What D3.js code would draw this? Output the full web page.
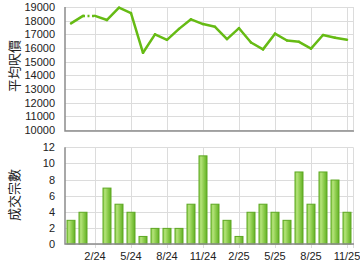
<!DOCTYPE html>
<html>
<head>
<meta charset="utf-8">
<script src="https://cdn.jsdelivr.net/npm/d3@7"></script>
<style>
  body { margin: 0; background: #fff; }
  text { font-family: "Liberation Sans", Arial, sans-serif; }
</style>
</head>
<body>
<script>
// months from 12/2023 to 11/2025
var months = ['12/23', '1/24', '2/24', '3/24', '4/24', '5/24', '6/24', '7/24', '8/24', '9/24', '10/24', '11/24',
    '12/24', '1/25', '2/25', '3/25', '4/25', '5/25', '6/25', '7/25', '8/25', '9/25', '10/25', '11/25'];
var avgPrice = [17800, 18350, 18350, 18050, 18950, 18550, 15650, 17000, 16600, 17400, 18100, 17750,
    17550, 16650, 17450, 16400, 15900, 17050, 16550, 16450, 15950, 16950, 16750, 16600];
var volume = [3, 4, 0, 7, 5, 4, 1, 2, 2, 2, 5, 11,
    5, 3, 1, 4, 5, 4, 3, 9, 5, 9, 8, 4];
var xTicks = ['2/24', '5/24', '8/24', '11/24', '2/25', '5/25', '8/25', '11/25'];
var priceTicks = [10000, 11000, 12000, 13000, 14000, 15000, 16000, 17000, 18000, 19000];
var volumeTicks = [0, 2, 4, 6, 8, 10, 12];

var width = 360, height = 270;
var left = 65, right = 353;

var svg = d3.select('body').append('svg')
    .attr('width', width)
    .attr('height', height);

var defs = svg.append('defs');
var grad = defs.append('linearGradient')
    .attr('id', 'barGrad')
    .attr('x1', 0).attr('x2', 1).attr('y1', 0).attr('y2', 0);
grad.append('stop').attr('offset', '0%').attr('stop-color', '#8ccf4c');
grad.append('stop').attr('offset', '25%').attr('stop-color', '#b4e27a');
grad.append('stop').attr('offset', '55%').attr('stop-color', '#92d052');
grad.append('stop').attr('offset', '100%').attr('stop-color', '#62b024');

var x = d3.scaleBand()
    .domain(months)
    .range([left, right])
    .paddingInner(0.25)
    .paddingOuter(0.125);

var cx = m => x(m) + x.bandwidth() / 2;

var yPrice = d3.scaleLinear().domain([10000, 19000]).range([130, 7]);
var yVol = d3.scaleLinear().domain([0, 12]).range([244, 147.3]);

// grid helper
function panel(y, ticks, top, bottom) {
    var g = svg.append('g');
    g.selectAll('line.h')
        .data(ticks)
        .enter().append('line')
        .attr('x1', left).attr('x2', right)
        .attr('y1', d => Math.round(y(d)) + 0.5)
        .attr('y2', d => Math.round(y(d)) + 0.5)
        .attr('stroke', '#dcdcdc');
    g.selectAll('line.v')
        .data(xTicks)
        .enter().append('line')
        .attr('x1', d => Math.round(cx(d)) + 0.5)
        .attr('x2', d => Math.round(cx(d)) + 0.5)
        .attr('y1', top).attr('y2', bottom)
        .attr('stroke', '#dcdcdc');
    g.append('line')
        .attr('x1', right + 0.5).attr('x2', right + 0.5)
        .attr('y1', top).attr('y2', bottom)
        .attr('stroke', '#dcdcdc');
    g.selectAll('text.tick')
        .data(ticks)
        .enter().append('text')
        .attr('x', 55)
        .attr('y', d => y(d) + 4)
        .attr('text-anchor', 'end')
        .attr('font-size', 11)
        .attr('fill', '#222')
        .text(d => d);
    return g;
}

// top: average price
panel(yPrice, priceTicks, yPrice(19000), yPrice(10000));

// a month with no deals gets a dotted segment leading into it
var segs = [];
for (var i = 1; i < months.length; i++) {
    segs.push({ a: i - 1, b: i, dotted: volume[i] == 0 });
}
svg.selectAll('line.seg')
    .data(segs)
    .enter().append('line')
    .attr('x1', d => cx(months[d.a]))
    .attr('y1', d => yPrice(avgPrice[d.a]))
    .attr('x2', d => cx(months[d.b]))
    .attr('y2', d => yPrice(avgPrice[d.b]))
    .attr('stroke', '#66bb14')
    .attr('stroke-width', 2.5)
    .attr('stroke-linecap', d => d.dotted ? 'butt' : 'round')
    .attr('stroke-dasharray', d => d.dotted ? '2,2.5' : null);

// axes lines top
svg.append('path')
    .attr('d', `M${left},${yPrice(19000)}V${yPrice(10000) + 1}H${right + 1}`)
    .attr('fill', 'none')
    .attr('stroke', '#8c8c8c')
    .attr('stroke-width', 1.5);

// bottom: volume
panel(yVol, volumeTicks, yVol(12), yVol(0) + 4);

svg.selectAll('rect.bar')
    .data(volume.map((v, i) => ({ m: months[i], v: v })).filter(d => d.v > 0))
    .enter().append('rect')
    .attr('class', 'bar')
    .attr('x', d => x(d.m) + 0.5)
    .attr('width', x.bandwidth() - 1)
    .attr('y', d => yVol(d.v) + 0.5)
    .attr('height', d => yVol(0) - yVol(d.v) - 0.5)
    .attr('fill', 'url(#barGrad)')
    .attr('stroke', '#5ea822')
    .attr('stroke-width', 1);

svg.append('path')
    .attr('d', `M${left},${yVol(12)}V${yVol(0)}H${right + 1}`)
    .attr('fill', 'none')
    .attr('stroke', '#8c8c8c')
    .attr('stroke-width', 1.5);

svg.selectAll('text.xlabel')
    .data(xTicks)
    .enter().append('text')
    .attr('x', d => cx(d))
    .attr('y', 260)
    .attr('text-anchor', 'middle')
    .attr('font-size', 11)
    .attr('fill', '#222')
    .text(d => d);

// axis titles
svg.append('text')
    .attr('transform', 'translate(19,66) rotate(-90)')
    .attr('text-anchor', 'middle')
    .attr('font-size', 13)
    .attr('fill', '#222')
    .style('font-family', '"Noto Sans CJK TC", sans-serif')
    .text('平均呎價');

svg.append('text')
    .attr('transform', 'translate(19,195) rotate(-90)')
    .attr('text-anchor', 'middle')
    .attr('font-size', 13)
    .attr('fill', '#222')
    .style('font-family', '"Noto Sans CJK TC", sans-serif')
    .text('成交宗數');
</script>
</body>
</html>
